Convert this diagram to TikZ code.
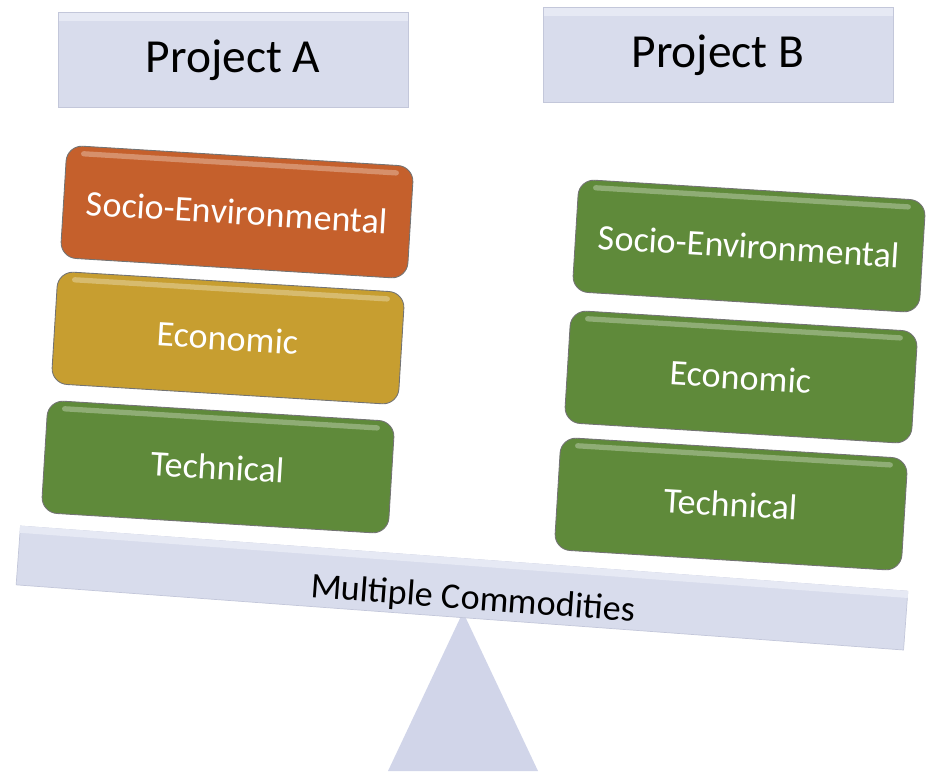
\documentclass[tikz,border=0pt]{standalone}
\usepackage{fontspec}
\setmainfont{Carlito}
\usetikzlibrary{calc}
\definecolor{lav}{HTML}{D8DCEC}
\definecolor{lavtop}{HTML}{E6E9F4}
\definecolor{lavedge}{HTML}{C3C7DA}
\definecolor{fulcrumcol}{HTML}{D1D5E9}
\definecolor{rust}{HTML}{C5602C}
\definecolor{gold}{HTML}{C79E30}
\definecolor{leaf}{HTML}{5F8A3A}

\begin{document}
\begin{tikzpicture}[x=0.02cm,y=-0.02cm]
	\tikzstyle{every node}=[inner sep=0pt,font=\fontsize{20.5}{24}\selectfont];
	\tikzstyle{title}=[draw=lavedge,fill=lav,minimum width=7cm,minimum height=1.9cm,font=\fontsize{27}{32}\selectfont,
	  path picture={\fill[lavtop] (path picture bounding box.north west) rectangle ([yshift=-5pt]path picture bounding box.north east);}];
	\tikzstyle{crit}=[draw=black!55,line width=0.5pt,rounded corners=9pt,minimum width=6.95cm,minimum height=2.25cm,text=white,rotate=-3.5];
	\tikzstyle{gloss}=[white,opacity=0.3,line width=3pt,line cap=round,shorten <=10pt,shorten >=10pt];
	\tikzstyle{beamstyle}=[draw=lavedge,fill=lav,minimum width=17.8cm,minimum height=1.18cm,rotate=-4.2];

	\useasboundingbox (0,0) rectangle (926,771);

	% the two projects
	\node at (233,60) (projA) [title] {Project A};
	\node at (718,55) (projB) [title] {Project B};

	% criteria of project A
	\node at (237,212) (seA) [crit,fill=rust] {Socio-Environmental};
	\node at (228,338) (ecoA) [crit,fill=gold] {Economic};
	\node at (218,467) (techA) [crit,fill=leaf] {Technical};

	% criteria of project B
	\node at (749,246) (seB) [crit,fill=leaf] {Socio-Environmental};
	\node at (741,377) (ecoB) [crit,fill=leaf] {Economic};
	\node at (731,504) (techB) [crit,fill=leaf] {Technical};

	% shine along the top of each box
	\foreach \n in {seA,ecoA,techA,seB,ecoB,techB}
	  \draw[gloss] ($(\n.north west)!0.07!(\n.south west)$) -- ($(\n.north east)!0.07!(\n.south east)$);

	% scale
	\fill[fulcrumcol] (463,612) -- (538,771) -- (388,771) -- cycle;
	\node at (462,588) (beam) [beamstyle] {};
	\fill[lavtop] (beam.north west) -- (beam.north east) -- ($(beam.north east)!0.12!(beam.south east)$) -- ($(beam.north west)!0.12!(beam.south west)$) -- cycle;
	\node at (473,600) (commod) [rotate=-4.2] {Multiple Commodities};
\end{tikzpicture}
\end{document}
